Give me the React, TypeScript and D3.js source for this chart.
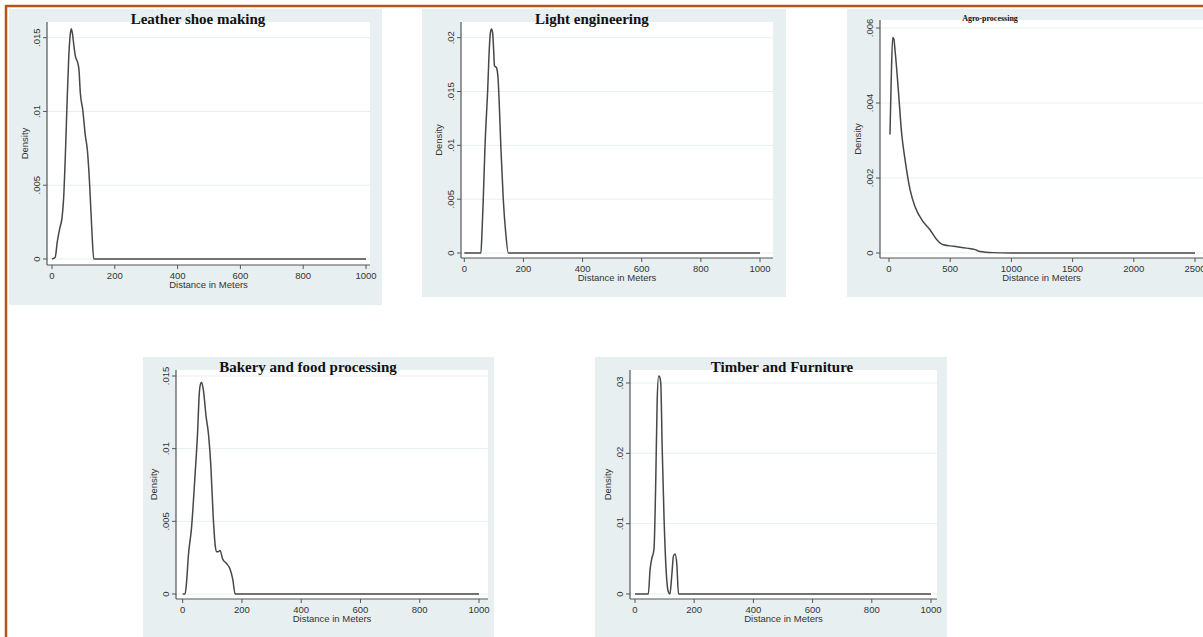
import React from 'react';
import * as d3 from 'd3';

// kernel density estimates: [distance in m, density]
const leatherDensity: [number, number][] = [
  [0, 0], [10, 0.0001], [17, 0.0012], [25, 0.0021], [32, 0.0028], [37, 0.0041],
  [43, 0.0073], [48, 0.0106], [53, 0.0135], [58, 0.0152], [61, 0.0156], [65, 0.0153],
  [70, 0.0144], [75, 0.0137], [82, 0.0133], [86, 0.0128], [90, 0.0113], [98, 0.0101],
  [106, 0.0084], [113, 0.0073], [120, 0.005], [127, 0.0019], [133, 0], [1000, 0],
];
const lightEngDensity: [number, number][] = [
  [0, 0], [56, 0], [60, 0.002], [64, 0.0049], [70, 0.0099], [79, 0.0151], [85, 0.0192],
  [88, 0.0204], [92, 0.0208], [96, 0.0204], [99, 0.019], [102, 0.0174], [109, 0.0172],
  [114, 0.0163], [118, 0.014], [124, 0.0096], [132, 0.0049], [140, 0.0019], [149, 0], [1000, 0],
];
const agroDensity: [number, number][] = [
  [8, 0.00316], [18, 0.0046], [30, 0.00575], [40, 0.0057], [49, 0.00542], [76, 0.00436],
  [103, 0.0032], [131, 0.00249], [172, 0.00169], [212, 0.00124], [267, 0.00089],
  [335, 0.00062], [389, 0.00036], [444, 0.00022], [526, 0.00018], [635, 0.00013],
  [703, 0.00009], [743, 0.00004], [852, 0.00001], [1000, 0], [2500, 0],
];
const bakeryDensity: [number, number][] = [
  [0, 0], [8, 0], [13, 0.0008], [19, 0.0026], [30, 0.0046], [42, 0.0083], [50, 0.011],
  [56, 0.0138], [61, 0.0145], [64, 0.01456], [70, 0.014], [79, 0.0122], [87, 0.011],
  [95, 0.0088], [103, 0.0053], [110, 0.0033], [115, 0.0029], [120, 0.0029], [126, 0.003],
  [135, 0.0024], [148, 0.0021], [160, 0.0017], [169, 0.001], [177, 0], [1000, 0],
];
const timberDensity: [number, number][] = [
  [0, 0], [45, 0], [51, 0.0035], [56, 0.0049], [64, 0.0063], [70, 0.0158], [75, 0.0276],
  [80, 0.031], [83, 0.0309], [87, 0.03], [92, 0.0205], [98, 0.011], [105, 0.0035],
  [112, 0.0004], [118, 0], [124, 0.0025], [130, 0.0054], [135, 0.0057], [141, 0.0044],
  [147, 0], [1000, 0],
];

const distTicks1000 = [0, 200, 400, 600, 800, 1000];
const distTicks2500 = [0, 500, 1000, 1500, 2000, 2500];
const yTicks015 = [0, 0.005, 0.01, 0.015];
const yTicks02 = [0, 0.005, 0.01, 0.015, 0.02];
const yTicks006 = [0, 0.002, 0.004, 0.006];
const yTicks03 = [0, 0.01, 0.02, 0.03];

const BG = '#e8eff1';
const BORDER = '#b0561d';
const SANS = 'Liberation Sans, Arial, sans-serif';

// stata style: ".015" rather than "0.015"
const fmtY = (v: number) => (v === 0 ? '0' : d3.format('')(v).replace(/^0/, ''));

type Panel = {
  title: string;
  titleSize: number;
  data: [number, number][];
  xDomain: [number, number];
  yDomain: [number, number];
  xTicks: number[];
  yTicks: number[];
  box: [number, number, number, number]; // grey graph region
  plot: { left: number; right: number; top: number; bottom: number };
  xRange: [number, number];
  yRange: [number, number];
  titleX: number;
  titleY: number;
};

const panels: Panel[] = [
  {
    title: 'Leather shoe making', titleSize: 15, data: leatherDensity,
    xDomain: [0, 1000], yDomain: [0, 0.015], xTicks: distTicks1000, yTicks: yTicks015,
    box: [9, 9, 382, 305], plot: { left: 47, right: 370, top: 22, bottom: 265 },
    xRange: [52, 366], yRange: [259, 37.7], titleX: 198, titleY: 24,
  },
  {
    title: 'Light engineering', titleSize: 15, data: lightEngDensity,
    xDomain: [0, 1000], yDomain: [0, 0.02], xTicks: distTicks1000, yTicks: yTicks02,
    box: [422, 9, 786, 297], plot: { left: 461, right: 773, top: 22, bottom: 258 },
    xRange: [464.3, 760], yRange: [253, 37.7], titleX: 592, titleY: 24,
  },
  {
    title: 'Agro-processing', titleSize: 8, data: agroDensity,
    xDomain: [0, 2500], yDomain: [0, 0.006], xTicks: distTicks2500, yTicks: yTicks006,
    box: [847, 9, 1203, 297], plot: { left: 880, right: 1203, top: 20, bottom: 258 },
    xRange: [889, 1195], yRange: [253, 28], titleX: 990, titleY: 21,
  },
  {
    title: 'Bakery and food processing', titleSize: 15, data: bakeryDensity,
    xDomain: [0, 1000], yDomain: [0, 0.015], xTicks: distTicks1000, yTicks: yTicks015,
    box: [143, 357, 494, 637], plot: { left: 176, right: 488, top: 370, bottom: 599 },
    xRange: [182.7, 479], yRange: [594, 376], titleX: 308, titleY: 372,
  },
  {
    title: 'Timber and Furniture', titleSize: 15, data: timberDensity,
    xDomain: [0, 1000], yDomain: [0, 0.03], xTicks: distTicks1000, yTicks: yTicks03,
    box: [595, 357, 947, 637], plot: { left: 630, right: 937, top: 370, bottom: 599 },
    xRange: [635, 931], yRange: [594, 383], titleX: 782, titleY: 372,
  },
];

const DensityPanel = ({ p }: { p: Panel }) => {
  const x = d3.scaleLinear().domain(p.xDomain).range(p.xRange);
  const y = d3.scaleLinear().domain(p.yDomain).range(p.yRange);
  const line = d3.line<[number, number]>()
    .x(d => x(d[0]))
    .y(d => y(d[1]))
    .curve(d3.curveMonotoneX);
  const { left, right, top, bottom } = p.plot;
  const [bx0, by0, bx1, by1] = p.box;
  const midY = (top + bottom) / 2;
  const midX = (left + right) / 2;

  return (
    <g>
      <rect x={bx0} y={by0} width={bx1 - bx0} height={by1 - by0} fill={BG} />
      <rect x={left} y={top} width={right - left} height={bottom - top} fill="#ffffff" />
      {/* grid lines */}
      {p.yTicks.map(t => (
        <line key={'g' + t} x1={left} x2={right} y1={y(t)} y2={y(t)} stroke={BG} strokeWidth={1} />
      ))}
      <path d={line(p.data) || ''} fill="none" stroke="#474747" strokeWidth={1.5} />
      {/* axes */}
      <line x1={left} x2={left} y1={top} y2={bottom} stroke="#555" strokeWidth={1.2} />
      <line x1={left} x2={right} y1={bottom} y2={bottom} stroke="#555" strokeWidth={1.2} />
      {p.yTicks.map(t => (
        <g key={'y' + t}>
          <line x1={left - 4} x2={left} y1={y(t)} y2={y(t)} stroke="#555" strokeWidth={1} />
          <text
            transform={`translate(${left - 7},${y(t)}) rotate(-90)`}
            textAnchor="middle"
            fontSize={9.5}
            fontFamily={SANS}
            fill="#333"
          >
            {fmtY(t)}
          </text>
        </g>
      ))}
      {p.xTicks.map(t => (
        <g key={'x' + t}>
          <line x1={x(t)} x2={x(t)} y1={bottom} y2={bottom + 4} stroke="#555" strokeWidth={1} />
          <text x={x(t)} y={bottom + 14} textAnchor="middle" fontSize={9.5}
            fontFamily={SANS} fill="#333">
            {t}
          </text>
        </g>
      ))}
      <text
        transform={`translate(${left - 19},${midY}) rotate(-90)`}
        textAnchor="middle"
        fontSize={9.5}
        fontFamily={SANS}
        fill="#333"
      >
        Density
      </text>
      <text x={midX} y={bottom + 23} textAnchor="middle" fontSize={9.5}
        fontFamily={SANS} fill="#333">
        Distance in Meters
      </text>
      <text x={p.titleX} y={p.titleY} textAnchor="middle" fontSize={p.titleSize}
        fontWeight="bold" fontFamily="Liberation Serif, Times New Roman, serif" fill="#111">
        {p.title}
      </text>
    </g>
  );
};

export default function App() {
  return (
    <div style={{ position: 'fixed', left: 0, top: 0 }}>
      <svg width={1203} height={637} style={{ display: 'block', background: '#fff' }}>
        {panels.map(p => <DensityPanel key={p.title} p={p} />)}
        {/* page frame */}
        <line x1={5.5} x2={1203} y1={6} y2={6} stroke={BORDER} strokeWidth={2.5} />
        <line x1={6} x2={6} y1={5} y2={637} stroke={BORDER} strokeWidth={2.5} />
      </svg>
    </div>
  );
}
